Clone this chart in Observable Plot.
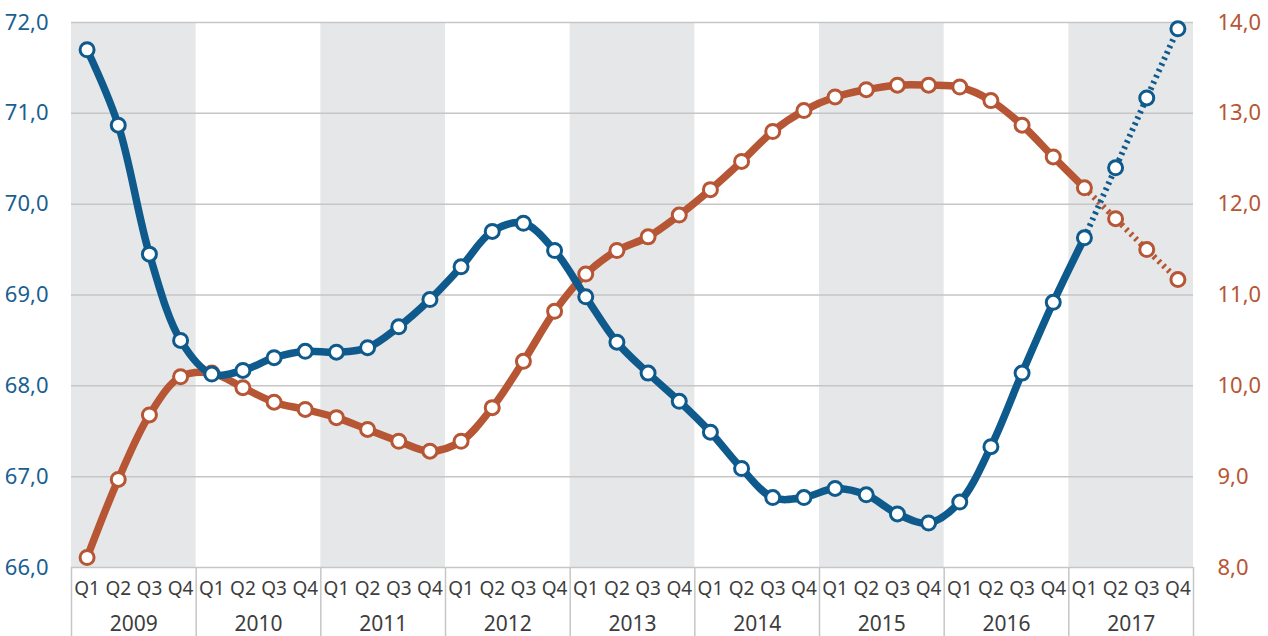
<!DOCTYPE html>
<html>
<head>
<meta charset="utf-8">
<script src="https://cdn.jsdelivr.net/npm/d3@7"></script>
<script src="https://cdn.jsdelivr.net/npm/@observablehq/plot@0.6"></script>
<style>
  html, body { margin: 0; padding: 0; background: #fff; }
</style>
</head>
<body>
<div id="chart"></div>
<script>
const years = [2009, 2010, 2011, 2012, 2013, 2014, 2015, 2016, 2017];
const quarters = ["Q1", "Q2", "Q3", "Q4"];
// left axis series (blue)
const employment = [
  71.70, 70.87, 69.45, 68.50,
  68.13, 68.17, 68.31, 68.38,
  68.37, 68.42, 68.65, 68.95,
  69.31, 69.70, 69.79, 69.49,
  68.98, 68.48, 68.14, 67.83,
  67.49, 67.09, 66.77, 66.77,
  66.87, 66.80, 66.59, 66.49,
  66.72, 67.33, 68.14, 68.92,
  69.63, 70.40, 71.17, 71.93
];
// right axis series (orange)
const unemployment = [
  8.11, 8.97, 9.68, 10.10,
  10.14, 9.98, 9.82, 9.74,
  9.65, 9.52, 9.39, 9.28,
  9.39, 9.76, 10.27, 10.82,
  11.23, 11.49, 11.64, 11.88,
  12.16, 12.47, 12.80, 13.03,
  13.18, 13.26, 13.31, 13.31,
  13.29, 13.14, 12.87, 12.52,
  12.18, 11.84, 11.50, 11.17
];
const leftTicks = [66, 67, 68, 69, 70, 71, 72];
const rightTicks = [8, 9, 10, 11, 12, 13, 14];
const forecastStart = 32; // 2017 Q1: dotted afterwards

const blue = "#0f5a8c";
const orange = "#b65634";
const offset = leftTicks[0] - rightTicks[0]; // maps right scale onto left scale
const fmt = v => v.toFixed(1).replace(".", ",");

const rows = employment.map((v, i) => ({i, emp: v, unemp: unemployment[i]}));
const solid = rows.filter(d => d.i <= forecastStart);
const dotted = rows.filter(d => d.i >= forecastStart);
const shaded = years.map((y, k) => ({k, y})).filter(d => d.k % 2 === 0);
const boundaries = d3.range(years.length + 1).map(k => k * 4 - 0.5);

const chart = Plot.plot({
  width: 1268,
  height: 636,
  marginLeft: 71,
  marginRight: 75,
  marginTop: 22,
  marginBottom: 69,
  style: {fontFamily: "'Noto Sans', sans-serif", background: "#fff"},
  x: {domain: [-0.5, years.length * 4 - 0.5], axis: null},
  y: {domain: [leftTicks[0], leftTicks[leftTicks.length - 1]], axis: null},
  marks: [
    Plot.rect(shaded, {x1: d => d.k * 4 - 0.5, x2: d => d.k * 4 + 3.5, fill: "#e6e7e8"}),
    Plot.gridY(leftTicks, {stroke: "#c6c6c6", strokeOpacity: 1, strokeWidth: 1.5}),
    Plot.axisX({ticks: boundaries, tickSize: 69, tickFormat: () => "", label: null, stroke: "#c6c6c6", strokeWidth: 1.5}),
    Plot.axisX({ticks: d3.range(years.length * 4), tickSize: 0, tickPadding: 14, label: null,
      tickFormat: i => quarters[i % 4], fontSize: 19, color: "#3d3d3d"}),
    Plot.axisX({ticks: years.map((y, k) => k * 4 + 1.5), tickSize: 0, tickPadding: 49, label: null,
      tickFormat: x => String(years[Math.round((x - 1.5) / 4)]), fontSize: 21, color: "#3d3d3d"}),
    Plot.axisY({ticks: leftTicks, anchor: "left", tickSize: 0, tickPadding: 23, label: null,
      tickFormat: fmt, fontSize: 22, color: "#1a5f91"}),
    Plot.axisY({ticks: leftTicks, anchor: "right", tickSize: 0, tickPadding: 24, label: null,
      tickFormat: d => fmt(d - offset), fontSize: 22, color: orange}),
    // orange series
    Plot.line(solid, {x: "i", y: d => d.unemp + offset, stroke: orange, strokeWidth: 7.5, curve: "catmull-rom"}),
    Plot.line(dotted, {x: "i", y: d => d.unemp + offset, stroke: orange, strokeWidth: 6, strokeDasharray: "2.5 4", strokeLinecap: "butt", curve: "catmull-rom"}),
    Plot.dot(rows, {x: "i", y: d => d.unemp + offset, r: 7, fill: "white", stroke: orange, strokeWidth: 3}),
    // blue series
    Plot.line(solid, {x: "i", y: "emp", stroke: blue, strokeWidth: 7.5, curve: "catmull-rom"}),
    Plot.line(dotted, {x: "i", y: "emp", stroke: blue, strokeWidth: 6, strokeDasharray: "2.5 4", strokeLinecap: "butt", curve: "catmull-rom"}),
    Plot.dot(rows, {x: "i", y: "emp", r: 7, fill: "white", stroke: blue, strokeWidth: 3})
  ]
});
document.getElementById("chart").appendChild(chart);
</script>
</body>
</html>
